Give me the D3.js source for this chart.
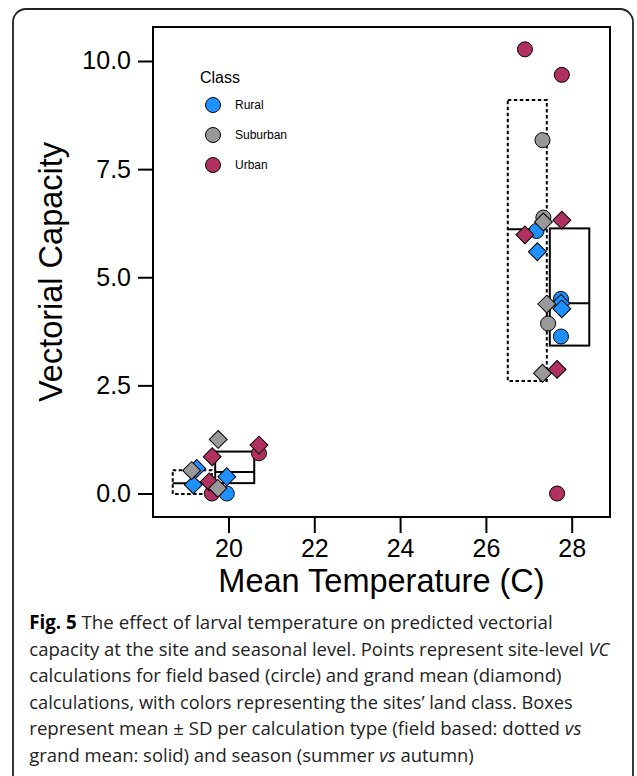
<!DOCTYPE html>
<html>
<head>
<meta charset="utf-8">
<script src="https://cdn.jsdelivr.net/npm/d3@7"></script>
<style>
  body { margin: 0; background: #fff; }
  svg { display: block; }
</style>
</head>
<body>
<div id="chart"></div>
<script>
// Land classes and their colours
const classes = ["Rural", "Suburban", "Urban"];
const classColors = ["#1E90FF", "#999999", "#B03060"];

// Field based VC (circles): [mean temperature, VC]
const ruralField = [[27.18, 6.07], [27.75, 4.50], [27.75, 3.63], [19.96, 0.0]];
const suburbanField = [[27.32, 8.17], [27.34, 6.38], [27.45, 3.93]];
const urbanField = [[26.91, 10.27], [27.77, 9.68], [27.66, 0.0], [20.71, 0.93], [19.61, 0.0]];

// Grand mean VC (diamonds): [mean temperature, VC]
const ruralGrand = [[27.20, 5.59], [27.75, 4.40], [27.77, 4.27], [19.26, 0.58], [19.18, 0.20], [19.96, 0.39]];
const urbanGrand = [[26.91, 5.98], [27.77, 6.32], [27.66, 2.87], [20.71, 1.12], [19.62, 0.85], [19.55, 0.27]];
const suburbanGrand = [[27.34, 6.28], [27.42, 4.38], [27.32, 2.78], [19.76, 1.25], [19.14, 0.53], [19.75, 0.12]];

// Boxes (mean - SD, median, mean + SD) per calculation type and season
const fieldBoxes = [
    {t0: 18.70, t1: 19.61, lo: -0.01, mid: 0.24, hi: 0.54},
    {t0: 26.51, t1: 27.42, lo: 2.60, mid: 6.11, hi: 9.10}
];
const grandBoxes = [
    {t0: 19.69, t1: 20.60, lo: 0.24, mid: 0.50, hi: 0.97},
    {t0: 27.49, t1: 28.41, lo: 3.42, mid: 4.40, hi: 6.13}
];

const xTicks = [20, 22, 24, 26, 28];
const yTicks = [0, 2.5, 5, 7.5, 10];

const captionLines = [
    [["Fig. 5", "bold"], [" The effect of larval temperature on predicted vectorial", ""]],
    [["capacity at the site and seasonal level. Points represent site-level ", ""], ["VC", "italic"]],
    [["calculations for field based (circle) and grand mean (diamond)", ""]],
    [["calculations, with colors representing the sites\u2019 land class. Boxes", ""]],
    [["represent mean \u00B1 SD per calculation type (field based: dotted ", ""], ["vs", "italic"]],
    [["grand mean: solid) and season (summer ", ""], ["vs", "italic"], [" autumn)", ""]]
];
const captionEnds = [553, 610, 562, 573, 582, 474];

const width = 637, height = 776;
const margin = {top: 27, right: 27, bottom: 259, left: 153};
const font = "'Liberation Sans', Arial, Helvetica, sans-serif";

const svg = d3.select("#chart")
    .append("svg")
    .attr("width", width)
    .attr("height", height);

// Outer figure frame
svg.append("rect")
    .attr("x", 13)
    .attr("y", 9)
    .attr("width", 620)
    .attr("height", 790)
    .attr("rx", 13)
    .attr("fill", "none")
    .attr("stroke", "#222")
    .attr("stroke-width", 1.8);

// Scales
const x = d3.scaleLinear()
    .domain([18.24, 28.893])
    .range([margin.left, width - margin.right]);

const y = d3.scaleLinear()
    .domain([-0.543, 10.786])
    .range([height - margin.bottom, margin.top]);

const color = d3.scaleOrdinal().domain(classes).range(classColors);

// Axes
svg.append("g")
    .attr("transform", `translate(0,${height - margin.bottom})`)
    .call(d3.axisBottom(x).tickValues(xTicks).tickSize(16).tickPadding(6).tickFormat(d3.format("d")))
    .call(g => g.select(".domain").remove())
    .call(g => g.selectAll("line").attr("stroke", "#000").attr("stroke-width", 2))
    .call(g => g.selectAll("text").attr("fill", "#000"))
    .attr("font-family", font)
    .attr("font-size", 25);

svg.append("g")
    .attr("transform", `translate(${margin.left},0)`)
    .call(d3.axisLeft(y).tickValues(yTicks).tickSize(15).tickPadding(7).tickFormat(d3.format(".1f")))
    .call(g => g.select(".domain").remove())
    .call(g => g.selectAll("line").attr("stroke", "#000").attr("stroke-width", 2))
    .call(g => g.selectAll("text").attr("fill", "#000"))
    .attr("font-family", font)
    .attr("font-size", 25);

// Plot frame
svg.append("rect")
    .attr("x", margin.left)
    .attr("y", margin.top)
    .attr("width", width - margin.right - margin.left)
    .attr("height", height - margin.bottom - margin.top)
    .attr("fill", "none")
    .attr("stroke", "#000")
    .attr("stroke-width", 2);

// Axis titles
svg.append("text")
    .attr("x", (margin.left + width - margin.right) / 2)
    .attr("y", 591.5)
    .attr("text-anchor", "middle")
    .attr("font-family", font)
    .attr("font-size", 32.5)
    .text("Mean Temperature (C)");

svg.append("text")
    .attr("transform", `translate(62,${(margin.top + height - margin.bottom) / 2}) rotate(-90)`)
    .attr("text-anchor", "middle")
    .attr("font-family", font)
    .attr("font-size", 32.5)
    .text("Vectorial Capacity");

// Boxes: dotted for field based, solid for grand mean
function drawBoxes(data, dash) {
    const g = svg.append("g");
    g.selectAll("rect")
        .data(data)
        .join("rect")
        .attr("x", d => x(d.t0))
        .attr("y", d => y(d.hi))
        .attr("width", d => x(d.t1) - x(d.t0))
        .attr("height", d => y(d.lo) - y(d.hi))
        .attr("fill", "none")
        .attr("stroke", "#000")
        .attr("stroke-width", 2)
        .attr("stroke-dasharray", dash);
    g.selectAll("line")
        .data(data)
        .join("line")
        .attr("x1", d => x(d.t0))
        .attr("x2", d => x(d.t1))
        .attr("y1", d => y(d.mid))
        .attr("y2", d => y(d.mid))
        .attr("stroke", "#000")
        .attr("stroke-width", 2);
}
drawBoxes(fieldBoxes, "3.5,2.5");
drawBoxes(grandBoxes, null);

// Points: circles first, diamonds on top
const circleSets = [[ruralField, "Rural"], [suburbanField, "Suburban"], [urbanField, "Urban"]];
circleSets.forEach(([pts, cls]) => {
    svg.append("g")
        .selectAll("circle")
        .data(pts)
        .join("circle")
        .attr("cx", d => x(d[0]))
        .attr("cy", d => y(d[1]))
        .attr("r", 7.5)
        .attr("fill", color(cls))
        .attr("stroke", "#000")
        .attr("stroke-width", 1);
});

const diamond = d3.symbol().type(d3.symbolSquare).size(160);
const diamondSets = [[ruralGrand, "Rural"], [urbanGrand, "Urban"], [suburbanGrand, "Suburban"]];
diamondSets.forEach(([pts, cls]) => {
    svg.append("g")
        .selectAll("path")
        .data(pts)
        .join("path")
        .attr("d", diamond)
        .attr("transform", d => `translate(${x(d[0])},${y(d[1])}) rotate(45)`)
        .attr("fill", color(cls))
        .attr("stroke", "#000")
        .attr("stroke-width", 1);
});

// Legend
const legend = svg.append("g").attr("font-family", font);
legend.append("text")
    .attr("x", 200)
    .attr("y", 83)
    .attr("font-size", 16)
    .text("Class");
legend.selectAll("circle")
    .data(classes)
    .join("circle")
    .attr("cx", 213)
    .attr("cy", (d, i) => 105 + i * 30)
    .attr("r", 7.5)
    .attr("fill", d => color(d))
    .attr("stroke", "#000")
    .attr("stroke-width", 1);
legend.selectAll("text.item")
    .data(classes)
    .join("text")
    .attr("class", "item")
    .attr("x", 235)
    .attr("y", (d, i) => 105 + i * 30)
    .attr("dy", "0.35em")
    .attr("font-size", 12)
    .text(d => d);

// Caption, each line squeezed to its width in the figure
const caption = svg.append("g")
    .attr("font-family", "'Open Sans', 'Noto Sans', sans-serif")
    .attr("font-size", 19)
    .attr("fill", "#222");
captionLines.forEach((parts, i) => {
    const baseY = 629 + i * 26.5;
    const t = caption.append("text").attr("x", 0).attr("y", 0);
    parts.forEach(([str, style]) => {
        const s = t.append("tspan").text(str);
        if (style === "bold") s.attr("font-weight", "bold").attr("fill", "#000");
        if (style === "italic") s.attr("font-style", "italic");
    });
    const w = t.node().getComputedTextLength();
    const k = (captionEnds[i] - 29.3) / w;
    t.attr("transform", `translate(29.3,${baseY}) scale(${k},1)`);
});
</script>
</body>
</html>
